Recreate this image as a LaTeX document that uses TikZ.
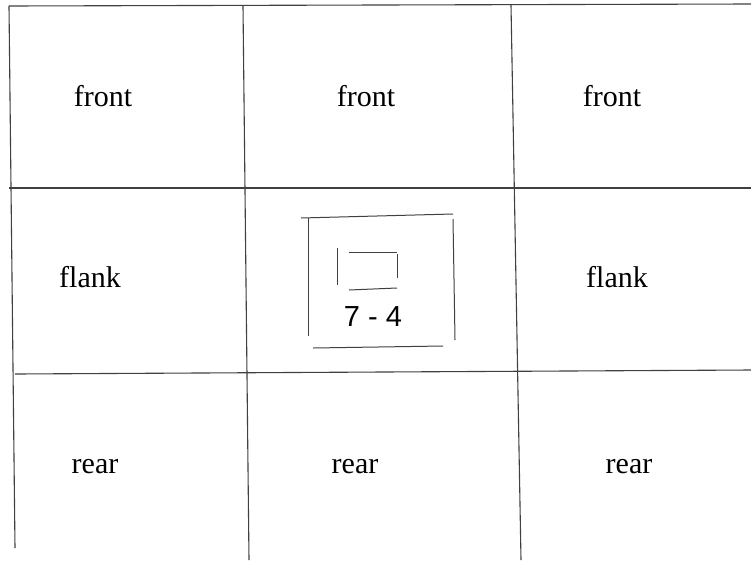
\documentclass[tikz,border=0pt]{standalone}
\usepackage{fontspec}
\setmainfont{Liberation Serif}
\newfontfamily\arialfont{Liberation Sans}
\begin{document}
\begin{tikzpicture}[x=1pt,y=-1pt,
  gridline/.style={draw=black!75,line width=1.1pt},
  boxline/.style={draw=black!75,line width=1pt},
  lbl/.style={font=\fontsize{30}{34}\selectfont,inner sep=0pt,anchor=base},
  numlbl/.style={font=\arialfont\fontsize{29}{33}\selectfont,inner sep=0pt,anchor=base}]
\useasboundingbox[fill=white] (0,0) rectangle (751,560);
% grid
\draw[gridline] (9,6) -- (751,4);
\draw[gridline] (9,6) -- (15,548);
\draw[gridline] (243,6) -- (249,560);
\draw[gridline] (511,5) -- (521,560);
\draw[gridline] (9,188) -- (751,188);
\draw[gridline] (15,374) -- (751,370);
% centre mark
\draw[boxline] (301,218) -- (453,214);
\draw[boxline] (308,218) -- (308,336);
\draw[boxline] (453,219) -- (455,340);
\draw[boxline] (313,348) -- (443,346);
\draw[boxline] (337,248) -- (337,285);
\draw[boxline] (349,252) -- (397,252);
\draw[boxline] (397,254) -- (397,278);
\draw[boxline] (349,290) -- (397,288);
% labels
\node[lbl] (f1) at (103,106) {front};
\node[lbl] (f2) at (366,106) {front};
\node[lbl] (f3) at (612,106) {front};
\node[lbl] (l1) at (90,287) {flank};
\node[lbl] (l3) at (617,287) {flank};
\node[lbl] (r1) at (95,473) {rear};
\node[lbl] (r2) at (355,473) {rear};
\node[lbl] (r3) at (629,473) {rear};
\node[numlbl] (num) at (373,326) {7 - 4};
\end{tikzpicture}
\end{document}
